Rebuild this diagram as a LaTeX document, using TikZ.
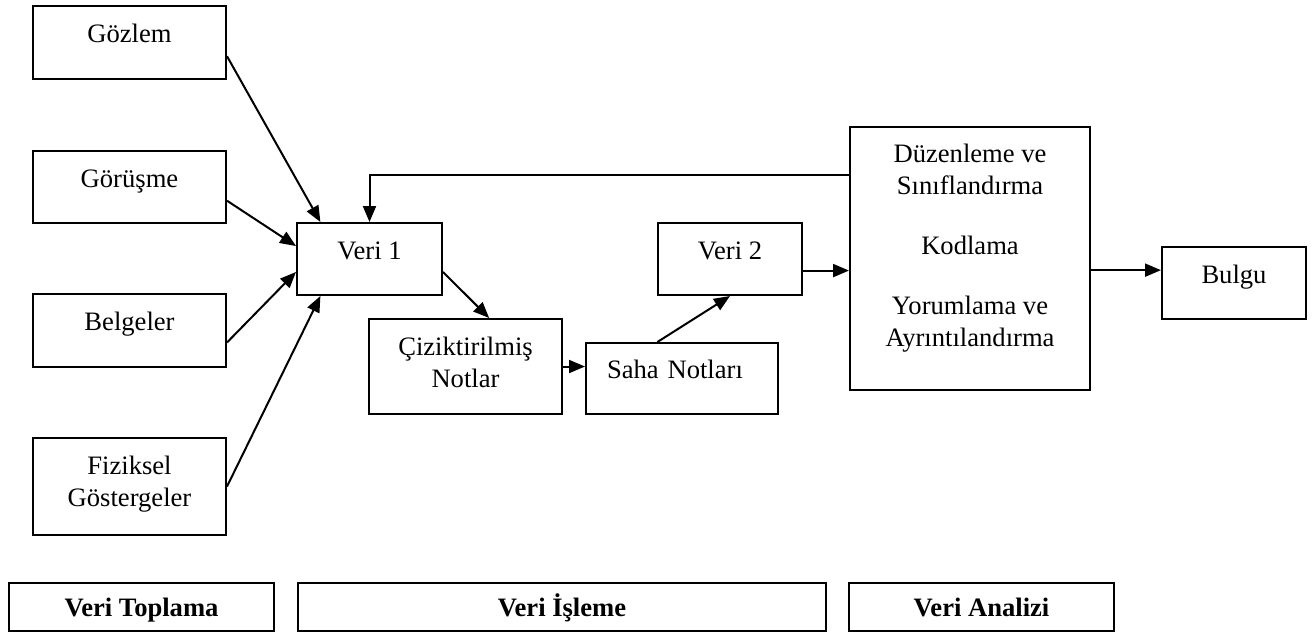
\documentclass[tikz,border=0pt]{standalone}
\usepackage{fontspec}
\setmainfont{Liberation Serif}
\usetikzlibrary{arrows.meta, positioning}
\tikzset{
  arrowK/.style={-{Triangle[length=8pt, width=6.5pt]}, line width=1pt},
  boxT/.style={rectangle, draw, line width=1pt, align=center,
               font=\fontsize{13.3}{16}\selectfont, inner sep=2pt,
               text height=9pt, text depth=9pt},
  boxS/.style={boxT, minimum width=96.5pt, minimum height=36.5pt},
  boxB/.style={rectangle, draw, line width=1pt, align=center,
               font=\bfseries\fontsize{13.3}{16}\selectfont,
               text height=9pt, text depth=0pt, minimum height=24pt},
}
\begin{document}
\begin{tikzpicture}[x=0.5pt, y=-0.5pt]
  \useasboundingbox (0,0) rectangle (1316,634);
  \node[boxS] (gozlem) at (129.5,42.5) {Gözlem};
  \node[boxS, minimum height=36pt, below=35pt of gozlem] (gorusme) {Görüşme};
  \node[boxS, below=34.5pt of gorusme] (belge) {Belgeler};
  \node[boxS, minimum height=48.5pt, text height=25pt, text depth=5pt,
        below=34.5pt of belge] (fizik) {Fiziksel\\Göstergeler};
  \node[boxT, minimum width=72.5pt, minimum height=36pt] (veri1) at (369.5,259) {Veri 1};
  \node[boxT, minimum width=96.5pt, minimum height=47.5pt, text height=25pt,
        text depth=4pt] (cizik) at (465.5,366.5) {Çiziktirilmiş\\Notlar};
  \node[boxT, minimum width=96pt, minimum height=35.5pt, text width=75pt,
        inner xsep=10.5pt, align=left] (saha) at (682,378.5) {Saha Notları};
  \node[boxT, minimum width=72pt, minimum height=36pt] (veri2) at (730,259) {Veri 2};
  \node[boxT, minimum width=120pt, minimum height=131.5pt, text height=101pt,
        text depth=13pt] (duzen) at (970,258.5)
    {Düzenleme ve\\Sınıflandırma\\[14pt]Kodlama\\[14pt]Yorumlama ve\\Ayrıntılandırma};
  \node[boxT, minimum width=72pt, minimum height=36pt] (bulgu) at (1234,283) {Bulgu};
  \node[boxB, minimum width=132.5pt] (toplama) at (141.5,607) {Veri Toplama};
  \node[boxB, minimum width=264pt, right=11pt of toplama] (isleme) {Veri İşleme};
  \node[boxB, minimum width=132.5pt, right=10.5pt of isleme] (analiz) {Veri Analizi};

  \draw[arrowK] (gozlem.-8) -- (veri1.143);
  \draw[arrowK] (gorusme.-8) -- (veri1.170);
  \draw[arrowK] (belge.-7) -- (veri1.190);
  \draw[arrowK] (fizik.east) -- (veri1.217);
  \draw[arrowK] ([yshift=41.75pt]duzen.west) -| (veri1.north);
  \draw[arrowK] (veri1.-10) -- (cizik.64);
  \draw[arrowK] (cizik.east) -- (cizik.east -| saha.west);
  \draw[arrowK] (saha.124) -- (veri2.south);
  \draw[arrowK] (veri2.-9) -- (veri2.-9 -| duzen.west);
  \draw[arrowK] (bulgu.170 -| duzen.east) -- (bulgu.170);
\end{tikzpicture}
\end{document}
